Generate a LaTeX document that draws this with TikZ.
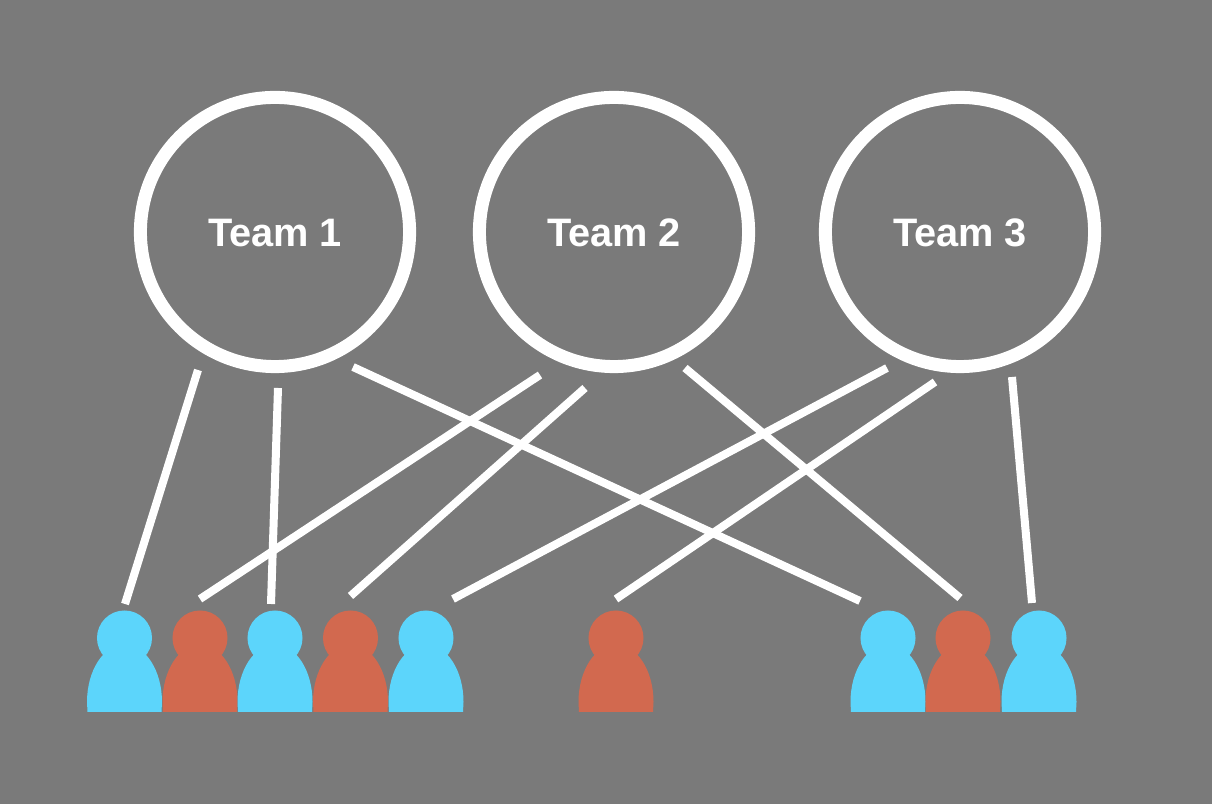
\documentclass[tikz,border=0pt]{standalone}
\usepackage{fontspec}
\setmainfont{Liberation Sans}
\usepackage{xcolor}
\usetikzlibrary{calc}
\definecolor{slate}{HTML}{7A7A7A}
\definecolor{memberblue}{HTML}{5CD5FB}
\definecolor{memberred}{HTML}{D2694F}

\begin{document}
\begin{tikzpicture}[
    x=0.01cm, y=-0.01cm,
    team/.style={circle, draw=white, line width=0.13cm, minimum size=2.69cm, inner sep=0pt, text=white, text height=8.6pt, font=\fontsize{11.3}{13}\selectfont\bfseries},
    head/.style={circle, minimum size=0.55cm, inner sep=0pt},
    link/.style={draw=white, line width=0.08cm},
]
\fill[slate] (0, 0) rectangle (1212, 804);
\useasboundingbox (0, 0) rectangle (1212, 804);

\node[team] (t1) at (275, 232) {Team 1};
\node[team] (t2) at (614, 232) {Team 2};
\node[team] (t3) at (960, 232) {Team 3};

\foreach \name/\px/\col in {p1/124.5/memberblue, p2/200/memberred, p3/275/memberblue, p4/350.5/memberred, p5/426/memberblue, p6/616/memberred, p7/888/memberblue, p8/963/memberred, p9/1039/memberblue} {
    \node[head, fill=\col] (\name) at (\px, 638) {};
    \fill[\col] ($(\name.center)+(-37, 74)$) -- ($(\name.center)+(-37.5, 64)$) arc[start angle=180, end angle=360, x radius=37.5, y radius=57.5] -- ($(\name.center)+(37, 74)$) -- cycle;
}

\foreach \from/\fx/\fy/\to/\tx/\ty in {t1/-77/138/p1/0.5/-34, t1/3/156/p3/-4/-34, t1/78/135/p7/-28/-37, t2/-74/143/p2/0/-39, t2/-29/156/p4/0/-42, t2/71/136/p8/-3/-40, t3/-73/136/p5/27/-39, t3/-25/150/p6/0/-39, t3/52/145/p9/-7/-35} {
    \draw[link] ([shift={(\fx, \fy)}]\from.center) -- ([shift={(\tx, \ty)}]\to.center);
}
\end{tikzpicture}
\end{document}
